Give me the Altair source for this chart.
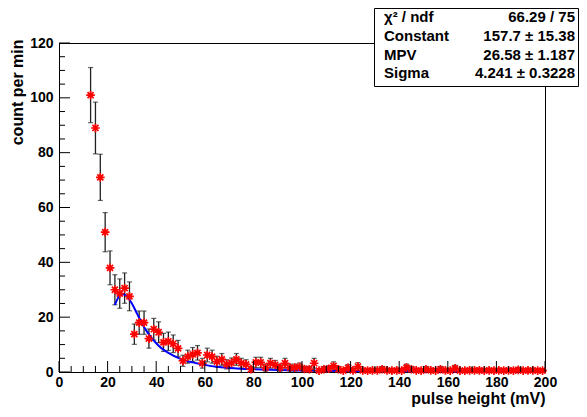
import altair as alt
import pandas as pd

# ---------------- data ----------------
bin_x = [13, 15, 17, 19, 21, 23, 25, 27, 29, 31, 33, 35, 37, 39, 41, 43, 45, 47, 49,
         51, 53, 55, 57, 59, 61, 63, 65, 67, 69, 71, 73, 75, 77, 79, 81, 83, 85, 87, 89,
         91, 93, 95, 97, 99, 101, 103, 105, 107, 109, 111, 113, 115, 117, 119, 121, 123,
         125, 127, 129, 131, 133, 135, 137, 139, 141, 143, 145, 147, 149, 151, 153, 155,
         157, 159, 161, 163, 165, 167, 169, 171, 173, 175, 177, 179, 181, 183, 185, 187,
         189, 191, 193, 195, 197, 199]
counts = [101, 89, 71, 51, 38, 30, 28.6, 30.6, 27.6, 13.8, 18, 18, 12.2, 15.6, 14.5, 10.8,
          11.2, 10.3, 8.6, 4.1, 5.6, 6.4, 7.0, 3.2, 6.2, 5.6, 3.8, 4.6, 2.8, 3.3, 4.6, 3.2,
          2.8, 1.0, 3.5, 3.5, 1.6, 3.2, 2.6, 1.6, 3.2, 1.6, 1.6, 1.9, 1.1, 1.0, 3.2, 0.5,
          1.0, 1.2, 2.2, 1.0, 0.5, 1.5, 0.6, 2.0, 0.6, 0.5, 0.6, 0.6, 1.0, 0.6, 0.5, 0.6,
          0.5, 1.6, 1.0, 0.6, 0.5, 1.0, 0.6, 0.5, 1.0, 0.6, 0.5, 1.3, 0.5, 0.5, 0.6, 0.6,
          0.6, 0.5, 0.6, 0.5, 0.6, 0.5, 0.6, 0.5, 0.8, 0.5, 0.6, 0.6, 0.5, 0.5]

# fitted Landau curve
curve_x = [23, 24, 25, 26, 27, 28, 30, 32, 34, 36, 38, 40, 42, 45, 50, 55, 60, 65, 70,
           80, 90, 100, 120, 140, 160, 180, 200]
curve_y = [24.5, 26.5, 28.0, 28.4, 28.2, 27.5, 25.0, 21.5, 18.0, 15.0, 12.5, 10.5, 8.8,
           7.0, 4.8, 3.5, 2.6, 1.9, 1.5, 1.0, 0.75, 0.55, 0.38, 0.28, 0.22, 0.17, 0.14]

x_major = [0, 20, 40, 60, 80, 100, 120, 140, 160, 180, 200]
x_minor = [v for v in range(0, 201, 5) if v % 20 != 0]
y_major = [0, 20, 40, 60, 80, 100, 120]
y_minor = [v for v in range(0, 121, 5) if v % 20 != 0]

stat_labels = ["χ² / ndf", "Constant", "MPV", "Sigma"]
stat_values = ["66.29 / 75", "157.7 ± 15.38", "26.58 ± 1.187", "4.241 ± 0.3228"]
stat_rows = [-26, -7, 11.5, 29.5]

FONT = "Liberation Sans"
W, H = 486, 329

hist = pd.DataFrame({"x": bin_x, "y": counts})
fit = pd.DataFrame({"x": curve_x, "y": curve_y})

xs = alt.Scale(domain=[0, 200], nice=False, zero=False)
ys = alt.Scale(domain=[0, 120], nice=False)

base = alt.Chart(hist).transform_calculate(
    err="sqrt(datum.y)"
).transform_calculate(
    lo="max(0, datum.y - datum.err)", hi="datum.y + datum.err"
)

xaxis = alt.Axis(values=x_major, format="d", tickSize=0, domain=True, domainColor="black",
                 labelFont=FONT, labelFontWeight="bold", labelFontSize=14, labelColor="black",
                 labelPadding=3, labelFlush=False, grid=False, title="pulse height (mV)",
                 titleFont=FONT, titleFontWeight="bold", titleFontSize=16, titleColor="black",
                 titleAnchor="end", titleAlign="right", titleX=W, titleY=26,
                 titleBaseline="middle")
yaxis = alt.Axis(values=y_major, format="d", tickSize=0, domain=True, domainColor="black",
                 labelFont=FONT, labelFontWeight="bold", labelFontSize=14, labelColor="black",
                 labelPadding=6, labelFlush=False, grid=False, title="count per min",
                 titleFont=FONT, titleFontWeight="bold", titleFontSize=16, titleColor="black",
                 titleAngle=-90, titleAlign="right", titleBaseline="middle",
                 titleX=-42, titleY=-4)

bars = base.mark_rule(color="#222222", strokeWidth=1.3).encode(
    x=alt.X("x:Q", scale=xs, axis=xaxis),
    y=alt.Y("lo:Q", scale=ys, axis=yaxis),
    y2="hi:Q",
)
caps_lo = base.mark_tick(orient="horizontal", size=5, thickness=1.2, color="#222222").encode(
    x=alt.X("x:Q", scale=xs), y=alt.Y("lo:Q", scale=ys))
caps_hi = base.mark_tick(orient="horizontal", size=5, thickness=1.2, color="#222222").encode(
    x=alt.X("x:Q", scale=xs), y=alt.Y("hi:Q", scale=ys))

star = "M-1,0L1,0M0,-1L0,1M-0.7,-0.7L0.7,0.7M-0.7,0.7L0.7,-0.7"
points = alt.Chart(hist).mark_point(shape=star, filled=False, color="#ff0000",
                                    strokeWidth=1.7, size=75, opacity=1).encode(
    x=alt.X("x:Q", scale=xs), y=alt.Y("y:Q", scale=ys))

curve = alt.Chart(fit).mark_line(color="#0000ff", strokeWidth=2, interpolate="monotone").encode(
    x=alt.X("x:Q", scale=xs), y=alt.Y("y:Q", scale=ys))

xmaj = alt.Chart(pd.DataFrame({"t": x_major})).mark_rule(color="black").encode(
    x=alt.X("t:Q", scale=xs), y=alt.value(H), y2=alt.value(H - 11))
xmin = alt.Chart(pd.DataFrame({"t": x_minor})).mark_rule(color="black").encode(
    x=alt.X("t:Q", scale=xs), y=alt.value(H), y2=alt.value(H - 6))
ymaj = alt.Chart(pd.DataFrame({"t": y_major})).mark_rule(color="black").encode(
    y=alt.Y("t:Q", scale=ys), x=alt.value(0), x2=alt.value(11))
ymin = alt.Chart(pd.DataFrame({"t": y_minor})).mark_rule(color="black").encode(
    y=alt.Y("t:Q", scale=ys), x=alt.value(0), x2=alt.value(6))

stats = pd.DataFrame({"label": stat_labels, "value": stat_values, "row": stat_rows})
box = alt.Chart(stats).transform_filter("datum.row < -20").mark_rect(
    fill="white", stroke="black", strokeWidth=1).encode(
    x=alt.value(315.5), x2=alt.value(519.5), y=alt.value(-34.5), y2=alt.value(43.5))
lab = alt.Chart(stats).mark_text(font=FONT, fontWeight="bold", fontSize=15, align="left",
                                 baseline="middle", color="black").encode(
    text="label:N", x=alt.value(325), y=alt.Y("row:Q", scale=None))
val = alt.Chart(stats).mark_text(font=FONT, fontWeight="bold", fontSize=15, align="right",
                                 baseline="middle", color="black").encode(
    text="value:N", x=alt.value(516), y=alt.Y("row:Q", scale=None))

chart = alt.layer(bars, caps_lo, caps_hi, curve, points, xmaj, xmin, ymaj, ymin,
                  box, lab, val).properties(
    width=W, height=H,
    autosize=alt.AutoSizeParams(type="none"),
    padding={"left": 51, "top": 35, "right": 34, "bottom": 35},
    background="white",
).configure_view(stroke="black", strokeWidth=1)

chart.save("out.html", embed_options={"renderer": "svg", "actions": False})
